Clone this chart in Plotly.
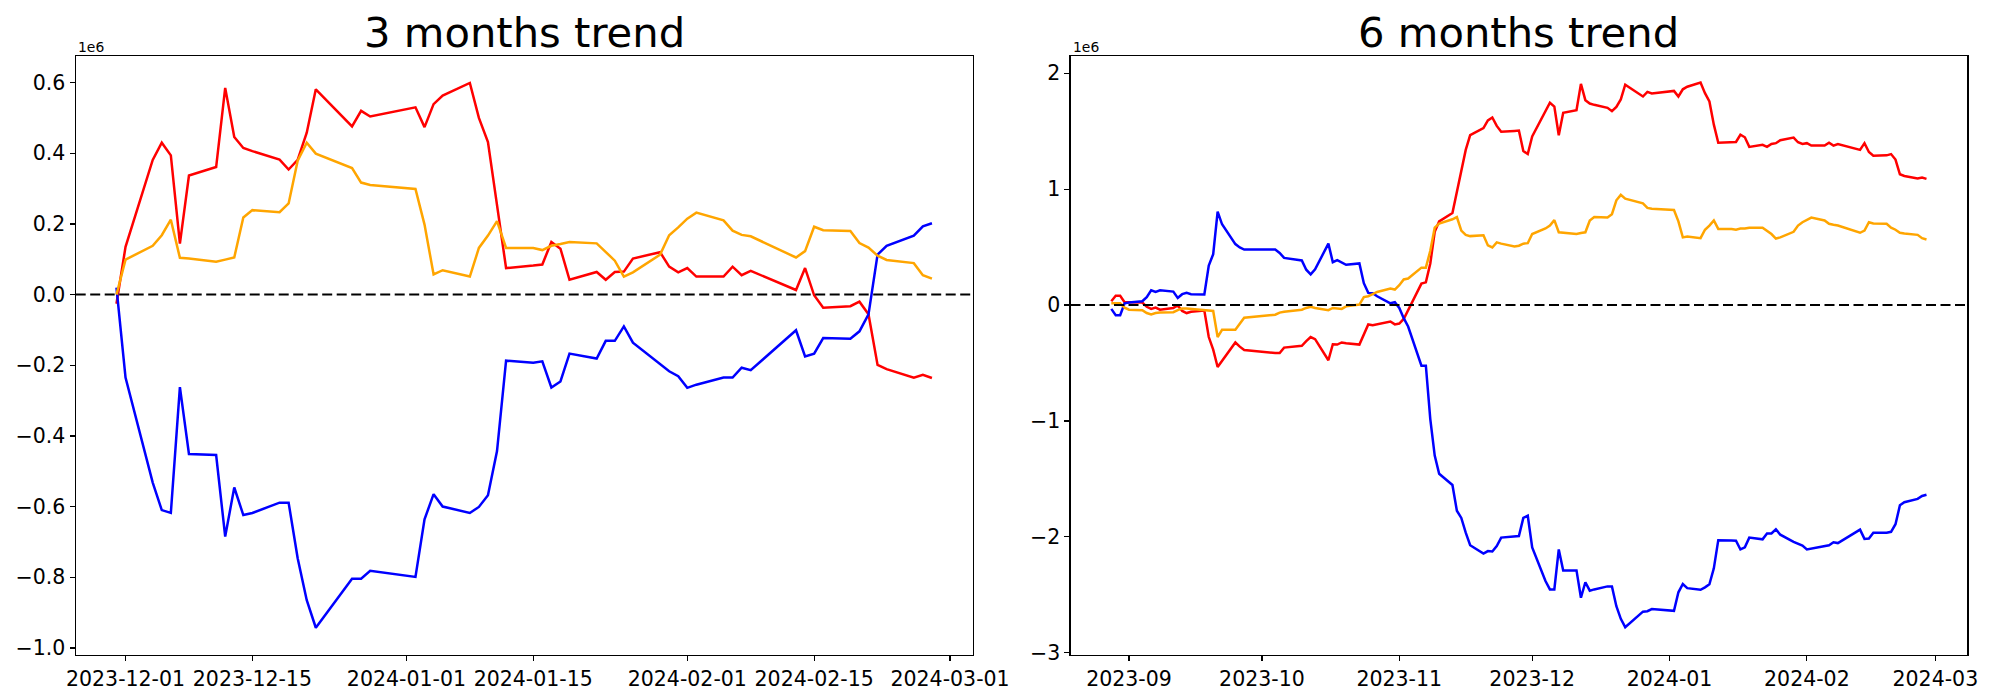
import plotly.graph_objects as go

# ---------------- 3 months data (values in units of 1e6) ----------------
dates_3m = ["2023-11-30", "2023-12-01", "2023-12-04", "2023-12-05", "2023-12-06", "2023-12-07", "2023-12-08",
            "2023-12-11", "2023-12-12", "2023-12-13", "2023-12-14", "2023-12-15", "2023-12-18", "2023-12-19",
            "2023-12-20", "2023-12-21", "2023-12-22", "2023-12-26", "2023-12-27", "2023-12-28", "2024-01-02",
            "2024-01-03", "2024-01-04", "2024-01-05", "2024-01-08", "2024-01-09", "2024-01-10", "2024-01-11",
            "2024-01-12", "2024-01-15", "2024-01-16", "2024-01-17", "2024-01-18", "2024-01-19", "2024-01-22",
            "2024-01-23", "2024-01-24", "2024-01-25", "2024-01-26", "2024-01-29", "2024-01-30", "2024-01-31",
            "2024-02-01", "2024-02-02", "2024-02-05", "2024-02-06", "2024-02-07", "2024-02-08", "2024-02-13",
            "2024-02-14", "2024-02-15", "2024-02-16", "2024-02-19", "2024-02-20", "2024-02-21", "2024-02-22",
            "2024-02-23", "2024-02-26", "2024-02-27", "2024-02-28"]

red_3m = [-0.026, 0.135, 0.381, 0.430, 0.394, 0.144, 0.337, 0.361, 0.585, 0.446, 0.415, 0.406, 0.382, 0.354,
          0.381, 0.458, 0.581, 0.476, 0.520, 0.504, 0.530, 0.474, 0.539, 0.563, 0.599, 0.500, 0.432, 0.254,
          0.075, 0.082, 0.085, 0.149, 0.130, 0.042, 0.064, 0.042, 0.064, 0.065, 0.102, 0.120, 0.079, 0.063,
          0.075, 0.051, 0.051, 0.079, 0.055, 0.067, 0.013, 0.075, -0.002, -0.037, -0.033, -0.020, -0.056,
          -0.199, -0.211, -0.235, -0.227, -0.236]

blue_3m = [0.020, -0.235, -0.532, -0.610, -0.618, -0.262, -0.451, -0.454, -0.685, -0.546, -0.624, -0.618,
           -0.589, -0.589, -0.746, -0.865, -0.943, -0.804, -0.804, -0.782, -0.799, -0.636, -0.565, -0.600,
           -0.618, -0.601, -0.568, -0.443, -0.187, -0.193, -0.189, -0.263, -0.246, -0.167, -0.181, -0.131,
           -0.131, -0.090, -0.136, -0.196, -0.217, -0.231, -0.264, -0.255, -0.235, -0.235, -0.207, -0.214,
           -0.101, -0.175, -0.167, -0.123, -0.125, -0.104, -0.056, 0.113, 0.138, 0.167, 0.193, 0.202]

orange_3m = [0.0, 0.099, 0.138, 0.168, 0.212, 0.104, 0.102, 0.093, 0.099, 0.105, 0.218, 0.239, 0.233, 0.258,
             0.379, 0.430, 0.399, 0.358, 0.317, 0.310, 0.299, 0.198, 0.057, 0.069, 0.051, 0.132, 0.167, 0.208,
             0.132, 0.132, 0.126, 0.138, 0.143, 0.149, 0.145, 0.120, 0.096, 0.051, 0.063, 0.113, 0.168, 0.190,
             0.215, 0.232, 0.210, 0.181, 0.169, 0.165, 0.105, 0.123, 0.192, 0.182, 0.180, 0.146, 0.133, 0.110,
             0.098, 0.089, 0.055, 0.045]

# ---------------- 6 months data (values in units of 1e6) ----------------
dates_6m = ["2023-08-28", "2023-08-29", "2023-08-30", "2023-08-31",
            "2023-09-01", "2023-09-04", "2023-09-05", "2023-09-06", "2023-09-07", "2023-09-08", "2023-09-11",
            "2023-09-12", "2023-09-13", "2023-09-14", "2023-09-15", "2023-09-18", "2023-09-19", "2023-09-20",
            "2023-09-21", "2023-09-22", "2023-09-25", "2023-09-26", "2023-09-27",
            "2023-10-04", "2023-10-05", "2023-10-06", "2023-10-10", "2023-10-11", "2023-10-12", "2023-10-13",
            "2023-10-16", "2023-10-17", "2023-10-18", "2023-10-19", "2023-10-20", "2023-10-23", "2023-10-24",
            "2023-10-25", "2023-10-26", "2023-10-27", "2023-10-30", "2023-10-31",
            "2023-11-01", "2023-11-02", "2023-11-03", "2023-11-06", "2023-11-07", "2023-11-08", "2023-11-09",
            "2023-11-10", "2023-11-13", "2023-11-14", "2023-11-15", "2023-11-16", "2023-11-17", "2023-11-20",
            "2023-11-21", "2023-11-22", "2023-11-23", "2023-11-24", "2023-11-27", "2023-11-28", "2023-11-29",
            "2023-11-30",
            "2023-12-01", "2023-12-04", "2023-12-05", "2023-12-06", "2023-12-07", "2023-12-08", "2023-12-11",
            "2023-12-12", "2023-12-13", "2023-12-14", "2023-12-15", "2023-12-18", "2023-12-19", "2023-12-20",
            "2023-12-21", "2023-12-22", "2023-12-26", "2023-12-27", "2023-12-28",
            "2024-01-02", "2024-01-03", "2024-01-04", "2024-01-05", "2024-01-08", "2024-01-09", "2024-01-10",
            "2024-01-11", "2024-01-12", "2024-01-15", "2024-01-16", "2024-01-17", "2024-01-18", "2024-01-19",
            "2024-01-22", "2024-01-23", "2024-01-24", "2024-01-25", "2024-01-26", "2024-01-29", "2024-01-30",
            "2024-01-31",
            "2024-02-01", "2024-02-02", "2024-02-05", "2024-02-06", "2024-02-07", "2024-02-08", "2024-02-13",
            "2024-02-14", "2024-02-15", "2024-02-16", "2024-02-19", "2024-02-20", "2024-02-21", "2024-02-22",
            "2024-02-23", "2024-02-26", "2024-02-27", "2024-02-28"]

red_6m = [0.033, 0.080, 0.080, 0.025,
          0.025, 0.022, -0.015, -0.033, -0.022, -0.040, -0.025, -0.004, -0.051, -0.069, -0.058, -0.047, -0.276,
          -0.385, -0.534, -0.483, -0.323, -0.359, -0.388,
          -0.414, -0.414, -0.367, -0.352, -0.312, -0.276, -0.294, -0.476, -0.338, -0.341, -0.323, -0.330,
          -0.341, -0.258, -0.167, -0.174, -0.167, -0.142, -0.167,
          -0.160, -0.120, -0.040, 0.185, 0.196, 0.359, 0.632, 0.722, 0.795, 0.976, 1.176, 1.339, 1.466, 1.528,
          1.593, 1.619, 1.546, 1.495, 1.503, 1.506, 1.329, 1.303,
          1.456, 1.684, 1.746, 1.713, 1.466, 1.659, 1.681, 1.909, 1.768, 1.739, 1.728, 1.702, 1.673, 1.710,
          1.775, 1.902, 1.800, 1.840, 1.826,
          1.848, 1.800, 1.862, 1.884, 1.920, 1.829, 1.757, 1.557, 1.401, 1.405, 1.408, 1.470, 1.448, 1.365,
          1.383, 1.365, 1.390, 1.397, 1.423, 1.445, 1.405, 1.390,
          1.397, 1.376, 1.376, 1.401, 1.376, 1.390, 1.339, 1.397, 1.321, 1.289, 1.292, 1.303, 1.256, 1.129,
          1.114, 1.093, 1.100, 1.089]

blue_6m = [-0.033, -0.087, -0.087, 0.015,
           0.022, 0.033, 0.069, 0.127, 0.113, 0.127, 0.116, 0.062, 0.094, 0.105, 0.094, 0.091, 0.341, 0.439,
           0.806, 0.697, 0.526, 0.497, 0.479,
           0.479, 0.450, 0.407, 0.385, 0.305, 0.265, 0.309, 0.530, 0.370, 0.388, 0.370, 0.348, 0.359, 0.189,
           0.105, 0.102, 0.076, 0.015, 0.025,
           -0.025, -0.113, -0.185, -0.523, -0.523, -0.984, -1.299, -1.456, -1.553, -1.775, -1.837, -1.964,
           -2.073, -2.145, -2.123, -2.127, -2.080, -2.007, -1.996, -1.993, -1.837, -1.818,
           -2.091, -2.381, -2.454, -2.454, -2.109, -2.290, -2.290, -2.526, -2.392, -2.465, -2.454, -2.428,
           -2.428, -2.599, -2.708, -2.780, -2.646, -2.642, -2.624,
           -2.639, -2.479, -2.407, -2.443, -2.457, -2.436, -2.410, -2.272, -2.029, -2.031, -2.033, -2.109,
           -2.091, -2.007, -2.022, -1.971, -1.971, -1.935, -1.982, -2.044, -2.058, -2.076,
           -2.109, -2.102, -2.076, -2.073, -2.047, -2.054, -1.938, -2.018, -2.015, -1.964, -1.964, -1.957,
           -1.891, -1.728, -1.702, -1.673, -1.648, -1.637]

orange_6m = [0.015, 0.015, 0.015, -0.022,
             -0.040, -0.044, -0.069, -0.080, -0.069, -0.065, -0.062, -0.044, -0.029, -0.029, -0.033, -0.044,
             -0.047, -0.051, -0.276, -0.214, -0.214, -0.156, -0.109,
             -0.083, -0.065, -0.058, -0.040, -0.025, -0.015, -0.025, -0.044, -0.025, -0.029, -0.033, -0.011,
             0.004, 0.069, 0.076, 0.094, 0.113, 0.142, 0.134,
             0.171, 0.221, 0.229, 0.323, 0.323, 0.468, 0.668, 0.704, 0.740, 0.759, 0.642, 0.606, 0.595, 0.603,
             0.515, 0.497, 0.541, 0.530, 0.505, 0.512, 0.530, 0.534,
             0.613, 0.661, 0.686, 0.733, 0.628, 0.624, 0.613, 0.621, 0.628, 0.730, 0.759, 0.755, 0.784, 0.904,
             0.951, 0.918, 0.878, 0.838, 0.831,
             0.820, 0.722, 0.584, 0.592, 0.577, 0.650, 0.686, 0.730, 0.657, 0.657, 0.650, 0.660, 0.661, 0.668,
             0.668, 0.642, 0.613, 0.574, 0.584, 0.632, 0.686, 0.715,
             0.737, 0.755, 0.730, 0.701, 0.693, 0.686, 0.624, 0.642, 0.715, 0.704, 0.701, 0.668, 0.650, 0.624,
             0.617, 0.606, 0.577, 0.566]

# tick labels
xticks_3m = ["2023-12-01", "2023-12-15", "2024-01-01", "2024-01-15", "2024-02-01", "2024-02-15", "2024-03-01"]
yticks_3m = [-1.0, -0.8, -0.6, -0.4, -0.2, 0.0, 0.2, 0.4, 0.6]
xticks_6m = ["2023-09-01", "2023-10-01", "2023-11-01", "2023-12-01", "2024-01-01", "2024-02-01", "2024-03-01"]
yticks_6m = [-3, -2, -1, 0, 1, 2]

for arr in (red_3m, blue_3m, orange_3m):
    assert len(arr) == len(dates_3m)
for arr in (red_6m, blue_6m, orange_6m):
    assert len(arr) == len(dates_6m)

# ---------------- figure ----------------
W, H = 2000, 700
FONT = "DejaVu Sans"
LW = 2.5

fig = go.Figure()


def add_panel(fig, dates, red, blue, orange, xa, ya):
    for vals, col in ((red, "#ff0000"), (blue, "#0000ff"), (orange, "#ffa500")):
        fig.add_trace(go.Scatter(x=dates, y=vals, mode="lines", xaxis=xa, yaxis=ya,
                                 line=dict(color=col, width=LW), showlegend=False, hoverinfo="skip"))


add_panel(fig, dates_3m, red_3m, blue_3m, orange_3m, "x", "y")
add_panel(fig, dates_6m, red_6m, blue_6m, orange_6m, "x2", "y2")

# dashed zero lines (span the full axes width)
fig.add_shape(type="line", xref="x domain", yref="y", x0=0, x1=1, y0=0, y1=0,
              line=dict(color="black", width=2, dash="10px,4.5px"))
fig.add_shape(type="line", xref="x2 domain", yref="y2", x0=0, x1=1, y0=0, y1=0,
              line=dict(color="black", width=2, dash="10px,4.5px"))

# axes placement (pixel positions measured from reference)
L1, R1 = 75.7 / W, 972.7 / W
L2, R2 = 1070.5 / W, 1967.3 / W
B, T = (H - 655.0) / H, (H - 55.7) / H

axis_common = dict(showgrid=False, zeroline=False, showline=True, linecolor="black", linewidth=1.2,
                   mirror=True, ticks="outside", ticklen=5, tickwidth=1.2, tickcolor="black",
                   automargin=False,
                   tickfont=dict(family=FONT, size=20.5, color="black"))

fig.update_layout(
    template="none",
    width=W, height=H,
    margin=dict(l=0, r=0, t=0, b=0, pad=0),
    paper_bgcolor="white", plot_bgcolor="white",
    showlegend=False,
    xaxis=dict(domain=[L1, R1], anchor="y", type="date",
               range=["2023-11-25 12:00", "2024-03-03 12:00"],
               tickvals=xticks_3m, tickformat="%Y-%m-%d", **axis_common),
    yaxis=dict(domain=[B, T], anchor="x", range=[-1.0201, 0.6761],
               tickvals=yticks_3m, tickformat=".1f", **axis_common),
    xaxis2=dict(domain=[L2, R2], anchor="y2", type="date",
                range=["2023-08-18 19:00", "2024-03-08 05:00"],
                tickvals=xticks_6m, tickformat="%Y-%m", **axis_common),
    yaxis2=dict(domain=[B, T], anchor="x2", range=[-3.02, 2.152],
                tickvals=yticks_6m, tickformat="d", **axis_common),
)

# titles
title_y = (H - 32.5) / H
fig.add_annotation(text="3 months trend", x=(L1 + R1) / 2, y=title_y, xref="paper", yref="paper",
                   xanchor="center", yanchor="middle", showarrow=False,
                   font=dict(family=FONT, size=41.7, color="black"))
fig.add_annotation(text="6 months trend", x=(L2 + R2) / 2, y=title_y, xref="paper", yref="paper",
                   xanchor="center", yanchor="middle", showarrow=False,
                   font=dict(family=FONT, size=41.7, color="black"))

# offset text "1e6"
off_y = (H - 47) / H
for xl in (L1, L2):
    fig.add_annotation(text="1e6", x=xl, y=off_y, xref="paper", yref="paper",
                       xanchor="left", yanchor="middle", showarrow=False,
                       font=dict(family=FONT, size=13.9, color="black"))

fig.write_html("out.html",
               config={"displayModeBar": False, "staticPlot": True},
               post_script="document.body.style.margin='0';document.body.style.overflow='hidden';")
